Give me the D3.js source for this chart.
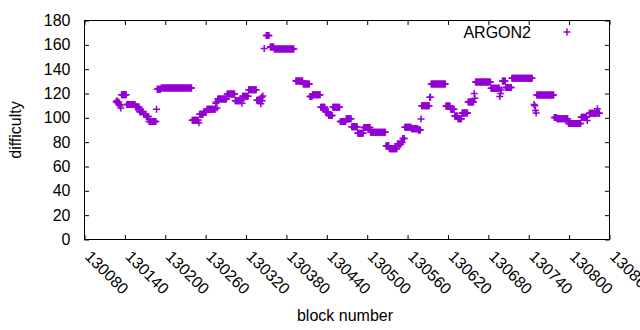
<!DOCTYPE html>
<html>
<head>
<meta charset="utf-8">
<script src="https://cdn.jsdelivr.net/npm/d3@7"></script>
<style>
  body { margin: 0; background: #fff; }
  svg { display: block; font-family: "Liberation Sans", Arial, sans-serif; }
</style>
</head>
<body>
<svg id="chart" width="640" height="330"></svg>
<script>
// difficulty per block, stored as runs: first block, number of blocks, difficulty
var runStart = [
  130127, 130128, 130129, 130130, 130131, 130132, 130133, 130134, 130135, 130143,
  130156, 130162, 130168, 130172, 130176, 130187, 130188, 130194, 130240, 130250,
  130251, 130257, 130262, 130275, 130276, 130277, 130278, 130292, 130304, 130314,
  130315, 130324, 130336, 130342, 130343, 130344, 130345, 130347, 130350, 130356,
  130362, 130394, 130405, 130415, 130419, 130431, 130438, 130443, 130449, 130460,
  130469, 130477, 130486, 130495, 130505, 130528, 130533, 130545, 130551, 130553,
  130556, 130566, 130576, 130580, 130581, 130593, 130595, 130617, 130624, 130630,
  130635, 130641, 130650, 130659, 130660, 130661, 130684, 130697, 130698, 130699,
  130701, 130706, 130715, 130748, 130749, 130750, 130751, 130752, 130778, 130782,
  130799, 130818, 130827, 130830, 130842, 130843
];
var runCount = [
  1, 1, 1, 1, 1, 1, 1, 1, 8, 13,
  6, 6, 4, 4, 11, 1, 6, 46, 10, 1,
  6, 5, 13, 1, 1, 1, 14, 12, 10, 1,
  9, 12, 6, 1, 1, 1, 1, 1, 5, 6,
  30, 11, 10, 4, 12, 7, 5, 6, 11, 9,
  8, 9, 9, 10, 23, 5, 12, 6, 2, 3,
  10, 10, 4, 1, 12, 2, 22, 7, 6, 5,
  6, 9, 9, 1, 1, 23, 13, 1, 1, 1,
  5, 9, 31, 1, 1, 1, 1, 26, 4, 17,
  19, 9, 1, 12, 1, 3
];
var runDifficulty = [
  113, 114, 113, 112, 113, 111, 110, 108, 119, 111,
  109, 105, 103, 101, 97, 107, 123.5, 124.5, 98, 96,
  103, 104.5, 107, 112, 113, 108, 115.5, 119.5, 114, 112,
  117.7, 123, 114.5, 111.5, 117, 114, 118, 157, 167.7, 158.2,
  156.5, 130.3, 127.8, 117.5, 119, 108.7, 105, 102, 108.7, 97,
  99.2, 92.6, 87.3, 92, 88.2, 77, 74.6, 78.5, 80, 83,
  92.3, 91, 90, 99, 110, 117, 127.8, 109.7, 107, 101.5,
  99.3, 103.9, 113, 120, 116, 129.5, 124.3, 117.5, 120, 122.8,
  130.3, 125, 132.5, 111, 110, 106, 104, 118.8, 100.3, 99.2,
  95.3, 100.5, 97.8, 103.7, 107.4, 103.7
];

var xTicks = [130080, 130140, 130200, 130260, 130320, 130380, 130440,
  130500, 130560, 130620, 130680, 130740, 130800, 130860];
var yTicks = [0, 20, 40, 60, 80, 100, 120, 140, 160, 180];
var seriesName = "ARGON2";

var color = "#9400d3";
var plotLeft = 84.5, plotRight = 609.5, plotTop = 20.5, plotBottom = 239.5;

var svg = d3.select("#chart");

var x = d3.scaleLinear().domain([130080, 130860]).range([plotLeft, plotRight]);
var y = d3.scaleLinear().domain([0, 180]).range([plotBottom, plotTop]);

// expand the runs into one point per block
var points = [];
runStart.forEach(function(start, i) {
  for (var k = 0; k < runCount[i]; k++) {
    points.push({ block: start + k, value: runDifficulty[i] });
  }
});

// axes, ticks pointing into the plot like gnuplot
var xAxis = svg.append("g")
  .attr("transform", "translate(0," + plotBottom + ")")
  .call(d3.axisBottom(x).tickValues(xTicks).tickSize(-4.5).tickSizeOuter(0).tickFormat(d3.format("d")));

xAxis.selectAll("text")
  .attr("x", 0)
  .attr("y", 0)
  .attr("dy", "0.35em")
  .attr("text-anchor", "start")
  .attr("transform", "translate(3,14) rotate(45)");

var yAxis = svg.append("g")
  .attr("transform", "translate(" + plotLeft + ",0)")
  .call(d3.axisLeft(y).tickValues(yTicks).tickSize(-4.5).tickSizeOuter(0).tickPadding(14));

svg.append("g")
  .attr("transform", "translate(" + plotRight + ",0)")
  .call(d3.axisRight(y).tickValues(yTicks).tickSize(-4.5).tickSizeOuter(0).tickFormat(""));

svg.append("g")
  .attr("transform", "translate(0," + plotTop + ")")
  .call(d3.axisTop(x).tickValues(xTicks).tickSize(-4.5).tickSizeOuter(0).tickFormat(""));

svg.selectAll(".domain").remove();
svg.selectAll(".tick line").attr("stroke", "#000");
svg.selectAll(".tick text")
  .attr("fill", "#000")
  .style("font-size", "16px")
  .style("font-family", "'Liberation Sans', Arial, sans-serif");

svg.append("rect")
  .attr("x", plotLeft)
  .attr("y", plotTop)
  .attr("width", plotRight - plotLeft)
  .attr("height", plotBottom - plotTop)
  .attr("fill", "none")
  .attr("stroke", "#000")
  .attr("stroke-width", 1);

// plus marks
var plus = "M-3.5,0H3.5M0,-3.5V3.5";

svg.append("g")
  .selectAll("path")
  .data(points)
  .enter()
  .append("path")
  .attr("d", plus)
  .attr("transform", function(d) { return "translate(" + x(d.block) + "," + y(d.value) + ")"; })
  .attr("fill", "none")
  .attr("stroke", color)
  .attr("stroke-width", 1.5);

// key
svg.append("text")
  .attr("x", 531)
  .attr("y", 32)
  .attr("dy", "0.35em")
  .attr("text-anchor", "end")
  .style("font-size", "16px")
  .text(seriesName);

svg.append("path")
  .attr("d", plus)
  .attr("transform", "translate(567,32)")
  .attr("fill", "none")
  .attr("stroke", color)
  .attr("stroke-width", 1.5);

// axis titles
svg.append("text")
  .attr("x", 345)
  .attr("y", 321)
  .attr("text-anchor", "middle")
  .style("font-size", "16px")
  .text("block number");

svg.append("text")
  .attr("transform", "translate(21,130) rotate(-90)")
  .attr("text-anchor", "middle")
  .style("font-size", "16px")
  .text("difficulty");
</script>
</body>
</html>
